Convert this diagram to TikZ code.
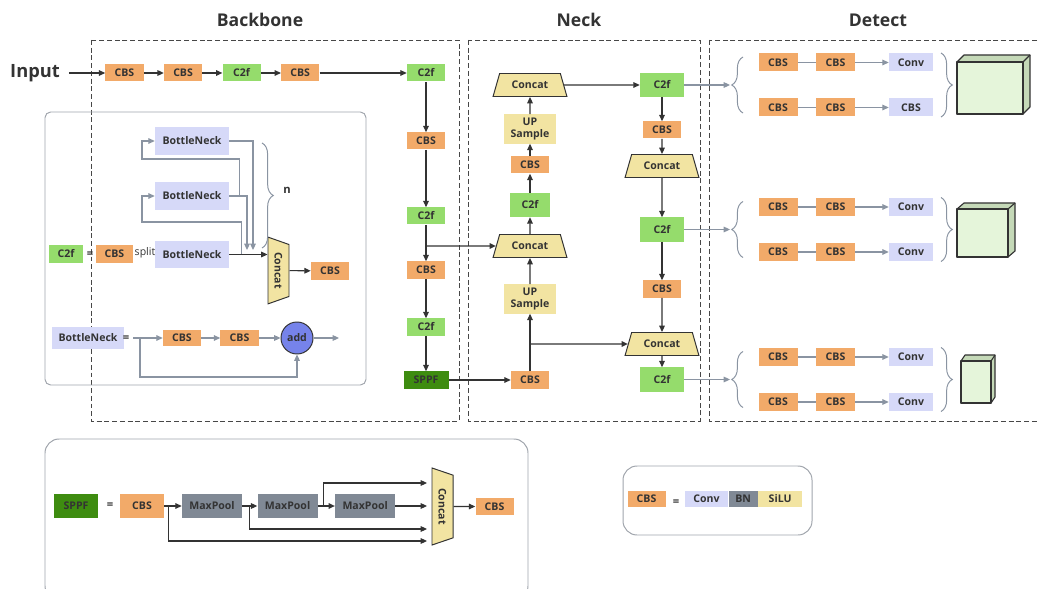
\documentclass[tikz,border=0pt]{standalone}
\usepackage{fontspec}
\setmainfont{Open Sans}
\usetikzlibrary{arrows.meta, calc, positioning, shapes.geometric, decorations.pathreplacing}
\definecolor{cbsorange}{RGB}{242,170,105}
\definecolor{cfgreen}{RGB}{149,220,108}
\definecolor{sppfgreen}{RGB}{62,140,16}
\definecolor{catyellow}{RGB}{242,228,162}
\definecolor{bnpurple}{RGB}{214,217,248}
\definecolor{poolgray}{RGB}{128,137,149}
\definecolor{addblue}{RGB}{118,131,234}
\definecolor{linegray}{RGB}{138,148,162}
\definecolor{darkline}{RGB}{51,51,51}
\definecolor{cubefront}{RGB}{229,245,218}
\definecolor{cubeside}{RGB}{197,217,184}
\definecolor{framegray}{RGB}{160,165,172}

% front corner x, y, width, height, depth x, depth y
\newcommand{\detcube}[6]{%
  \draw[cubeline, fill=cubeside] (#1,#2) -- ++(#5,-#6) -- ++(#3,0) -- ++(0,#4) -- ++(-#5,#6) -- ++(-#3,0) -- cycle;
  \draw[cubeline, fill=cubefront] (#1,#2) rectangle ++(#3,#4);
  \draw[cubeline] (#1+#3,#2) -- ++(#5,-#6);
}

\begin{document}
\begin{tikzpicture}[x=0.025cm, y=-0.025cm, text=darkline,
    font=\bfseries\fontsize{7.5}{9}\selectfont,
    node distance=0.5cm,
    blk/.style={minimum width=0.95cm, minimum height=0.425cm, inner sep=0pt},
    cbs/.style={blk, fill=cbsorange},
    cf/.style={blk, fill=cfgreen},
    sppf/.style={blk, fill=sppfgreen},
    bneck/.style={blk, fill=bnpurple, minimum width=1.85cm, minimum height=0.675cm},
    conv/.style={blk, fill=bnpurple},
    dcbs/.style={cbs, minimum width=0.975cm, minimum height=0.45cm},
    dconv/.style={conv, minimum width=1.1cm, minimum height=0.45cm},
    pool/.style={blk, fill=poolgray, minimum width=1.5cm, minimum height=0.575cm},
    upbox/.style={blk, fill=catyellow, minimum width=1.3cm, minimum height=0.725cm, align=center, font=\bfseries\fontsize{7.5}{8.5}\selectfont},
    cat/.style={trapezium, trapezium stretches=true, trapezium left angle=68, trapezium right angle=68, draw=darkline, line width=0.7pt, fill=catyellow, inner sep=1pt, minimum width=1.85cm, minimum height=0.575cm},
    headtxt/.style={font=\bfseries\fontsize{12.5}{15}\selectfont},
    eqsign/.style={font=\bfseries\fontsize{8}{9}\selectfont},
    darr/.style={draw=darkline, line width=0.8pt, -{Triangle[length=4.5pt, width=4pt]}},
    garr/.style={draw=linegray, line width=0.8pt, -{Triangle[length=4.5pt, width=4pt]}},
    gline/.style={draw=linegray, line width=0.8pt},
    dbox/.style={draw=darkline!90, line width=0.6pt, dash pattern=on 3.5pt off 2pt},
    panel/.style={draw=framegray, line width=0.7pt, rounded corners=4pt},
    brc/.style={draw=linegray, line width=0.7pt, decorate, decoration={brace, amplitude=8pt}},
    cubeline/.style={draw=darkline, line width=0.8pt, line join=round}
]
\useasboundingbox (0,0) rectangle (1038,589);

% titles and regions
\node[headtxt] (ttbb) at (260,20) {Backbone};
\node[headtxt] (ttneck) at (579,20) {Neck};
\node[headtxt] (ttdet) at (878,20) {Detect};
\draw[dbox] (91,40) rectangle (459,421);
\draw[dbox] (468,40) rectangle (700,421);
\draw[dbox] (709,40) rectangle (1045,421);

% backbone
\node[headtxt, font=\bfseries\fontsize{13}{15}\selectfont] (inp) at (35,73) {Input};
\node[cbs] (bcbs1) at (124.5,73) {CBS};
\node[cbs, right=of bcbs1] (bcbs2) {CBS};
\node[cf, right=of bcbs2] (bc2f1) {C2f};
\node[cbs, right=of bc2f1] (bcbs3) {CBS};
\node[cf] (bc2f2) at (426,73) {C2f};
\node[cbs] (bcbs4) at (426,141) {CBS};
\node[cf] (bc2f3) at (426,216) {C2f};
\node[cbs] (bcbs5) at (426,270) {CBS};
\node[cf] (bc2f4) at (426,327) {C2f};
\node[sppf, minimum width=1.125cm] (bsppf) at (426,380) {SPPF};

\draw[darr, shorten <=3pt] (inp) -- (bcbs1);
\draw[darr] (bcbs1) -- (bcbs2);
\draw[darr] (bcbs2) -- (bc2f1);
\draw[darr] (bc2f1) -- (bcbs3);
\draw[darr] (bcbs3) -- (bc2f2);
\draw[darr] (bc2f2) -- (bcbs4);
\draw[darr] (bcbs4) -- (bc2f3);
\draw[darr] (bc2f3) -- (bcbs5);
\draw[darr] (bcbs5) -- (bc2f4);
\draw[darr] (bc2f4) -- (bsppf);

% neck
\node[cbs] (ncbs1) at (530,380) {CBS};
\node[upbox] (nup1) at (530,299) {UP\\Sample};
\node[cat] (ncat1) at (530,246) {Concat};
\node[cf, minimum width=1cm, minimum height=0.6cm] (nc2f1) at (530,205) {C2f};
\node[cbs] (ncbs2) at (530,165) {CBS};
\node[upbox] (nup2) at (530,129) {UP\\Sample};
\node[cat] (ncat2) at (530,85) {Concat};
\node[cf, minimum width=1.1cm, minimum height=0.6cm] (nc2f2) at (662,85) {C2f};
\node[cbs] (ncbs3) at (662,130) {CBS};
\node[cat] (ncat3) at (662,166) {Concat};
\node[cf, minimum width=1.1cm, minimum height=0.6cm] (nc2f3) at (662,229.5) {C2f};
\node[cbs] (ncbs4) at (662,289) {CBS};
\node[cat] (ncat4) at (662,344) {Concat};
\node[cf, minimum width=1.1cm, minimum height=0.6cm] (nc2f4) at (662,379.5) {C2f};

\draw[darr] (bsppf) -- (ncbs1);
\draw[darr] (ncbs1) -- (nup1);
\draw[darr] (nup1) -- (ncat1);
\draw[darr] (ncat1) -- (nc2f1);
\draw[darr] (nc2f1) -- (ncbs2);
\draw[darr] (ncbs2) -- (nup2);
\draw[darr] (nup2) -- (ncat2);
\draw[darr] (ncat2) -- (nc2f2);
\draw[darr] (nc2f2) -- (ncbs3);
\draw[darr] (ncbs3) -- (ncat3);
\draw[darr] (ncat3) -- (nc2f3);
\draw[darr] (nc2f3) -- (ncbs4);
\draw[darr] (ncbs4) -- (ncat4);
\draw[darr] (ncat4) -- (nc2f4);
\coordinate (bsplit) at (426,246);
\draw[darr] (bsplit) -- (ncat1.west);
\coordinate (nsplit) at (530,344);
\draw[darr] (nsplit) -- (ncat4.west);

% detect heads
\foreach \g/\yt/\lab in {1/85/CBS, 2/229.5/Conv, 3/379.5/Conv} {
  \node[dcbs] (da\g) at (778,\yt-22.5) {CBS};
  \node[dcbs] (db\g) at (835.5,\yt-22.5) {CBS};
  \node[dconv] (dc\g) at (911,\yt-22.5) {Conv};
  \node[dcbs] (dd\g) at (778,\yt+22.5) {CBS};
  \node[dcbs] (de\g) at (835.5,\yt+22.5) {CBS};
  \node[dconv] (df\g) at (911,\yt+22.5) {\lab};
  \draw[gline] (da\g) -- (db\g);
  \draw[garr] (db\g) -- (dc\g);
  \draw[gline] (dd\g) -- (de\g);
  \draw[garr] (de\g) -- (df\g);
  \coordinate (tip\g) at (730,\yt);
  \draw[brc] (743,\yt+28) -- (743,\yt-28);
  \draw[brc] (941,\yt-32) -- (941,\yt+32);
}
\draw[garr] (nc2f2) -- (tip1);
\draw[garr] (nc2f3) -- (tip2);
\draw[garr] (nc2f4) -- (tip3);
\detcube{957}{62}{66}{52}{7}{7}
\detcube{957}{209}{51}{48}{7}{6}
\detcube{961}{361}{30}{42}{4}{6}

% C2f panel
\draw[panel] (45,112) rectangle (366,385);
\node[bneck] (bn1) at (192,141) {BottleNeck};
\node[bneck] (bn2) at (192,196) {BottleNeck};
\node[bneck] (bn3) at (192,254.5) {BottleNeck};
\node[cf, minimum width=0.85cm] (pc2f) at (66,254) {C2f};
\node[eqsign] (peq1) at (90,255) {=};
\node[cbs, minimum width=0.925cm] (pcbs1) at (114.5,254) {CBS};
\node[font=\fontsize{7.5}{9}\selectfont] (psplit) at (145,253) {split};
\node[cat, rotate=-90, minimum width=1.675cm, minimum height=0.525cm, trapezium left angle=62, trapezium right angle=62] (pcat) at (278.5,270.5) {Concat};
\node[cbs] (pcbs2) at (330,271) {CBS};
\node[font=\bfseries\fontsize{8}{9}\selectfont] (pn) at (287,190) {n};

\draw[darr] (pcat) -- (pcbs2);
\draw[darr] (bn3.east) -- (bn3.east -| pcat.south);
\draw[garr] (bn1.east) -| (253,250);
\draw[garr] (bn2.east) -| (247,250);
\draw[garr] (bn2.east) ++(10,0) |- (142,159) |- (bn1.west);
\draw[garr] (bn3.east) ++(12,0) |- (142,222) |- (bn2.west);
\draw[brc] (262,143) -- (262,248);

% bottleneck row
\node[bneck, minimum width=1.8cm, minimum height=0.55cm] (bnd) at (88,338) {BottleNeck};
\node[eqsign] (peq2) at (126,339) {=};
\coordinate (bstart) at (133,338);
\coordinate (bsp) at (140,338);
\node[cbs, minimum height=0.4cm] (bcbsa) at (182,338) {CBS};
\node[cbs, minimum height=0.4cm] (bcbsb) at (239.5,338) {CBS};
\node[circle, draw=darkline, line width=0.7pt, fill=addblue, minimum size=0.8cm, inner sep=0pt] (badd) at (297,338) {add};
\coordinate (bout) at (339,338);
\draw[garr] (bstart) -- (bcbsa);
\draw[garr] (bcbsa) -- (bcbsb);
\draw[garr] (bcbsb) -- (badd);
\draw[garr] (badd) -- (bout);
\draw[garr] (bsp) -- (140,377) -| (badd.south);

% SPPF panel
\draw[panel, rounded corners=10pt] (45,439) rectangle (528,600);
\node[sppf, minimum width=1.1cm, minimum height=0.575cm] (sspf) at (76,506) {SPPF};
\node[eqsign] (seq) at (110,506) {=};
\node[cbs, minimum width=1.1cm, minimum height=0.575cm] (scbs1) at (142,506) {CBS};
\node[pool] (smp1) at (212,506) {MaxPool};
\node[pool, right=0.375cm of smp1] (smp2) {MaxPool};
\node[pool, right=0.425cm of smp2] (smp3) {MaxPool};
\node[cat, rotate=-90, minimum width=1.925cm, minimum height=0.525cm, trapezium left angle=67, trapezium right angle=67] (scat) at (442.5,506.5) {Concat};
\node[cbs] (scbs2) at (494.5,506.5) {CBS};
\coordinate (sin1) at (427,483);
\coordinate (sin2) at (427,506);
\coordinate (sin3) at (427,529);
\coordinate (sin4) at (427,541);
\draw[darr] (scbs1) -- (smp1);
\draw[darr] (smp1) -- (smp2);
\draw[darr] (smp2) -- (smp3);
\draw[darr] (smp3) -- (sin2);
\draw[darr] (smp2.east) ++(6,0) |- (sin1);
\draw[darr] (smp1.east) ++(7,0) |- (sin3);
\draw[darr] (scbs1.east) ++(4,0) |- (sin4);
\draw[darr] (scat) -- (scbs2);

% CBS legend
\draw[panel, rounded corners=10pt] (623,466) rectangle (812,535);
\node[cbs, minimum height=0.4cm] (lcbs) at (646.5,499) {CBS};
\node[eqsign] (leq) at (676,503) {=};
\node[conv, minimum width=1.075cm, minimum height=0.4cm] (lconv) at (706.5,499) {Conv};
\node[blk, fill=poolgray, minimum width=0.725cm, minimum height=0.4cm, right=0pt of lconv] (lbn) {BN};
\node[blk, fill=catyellow, minimum width=1.1cm, minimum height=0.4cm, right=0pt of lbn] (lsilu) {SiLU};
\end{tikzpicture}
\end{document}
